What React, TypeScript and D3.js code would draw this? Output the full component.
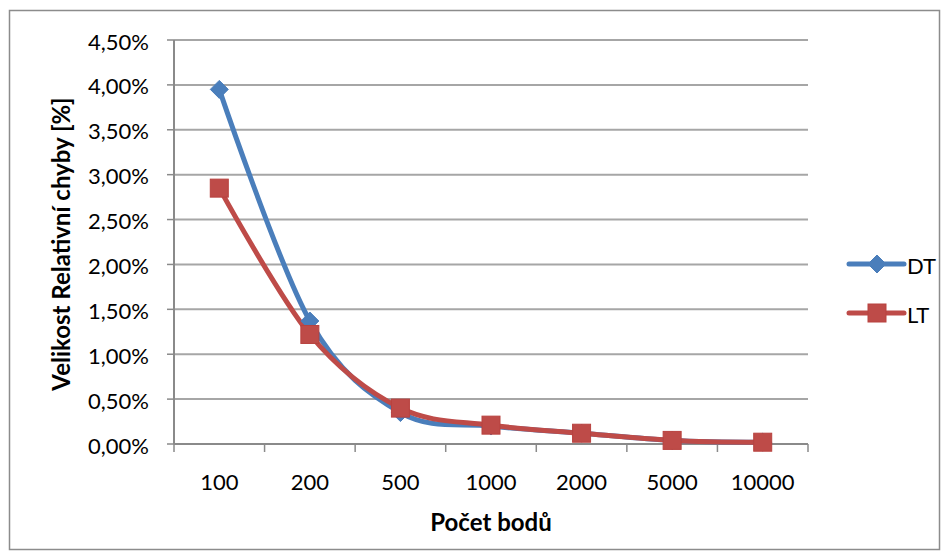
import React from "react";
import * as d3 from "d3";

const categories = ["100", "200", "500", "1000", "2000", "5000", "10000"];
const dtValues = [3.95, 1.37, 0.35, 0.2, 0.12, 0.04, 0.02];
const ltValues = [2.85, 1.22, 0.4, 0.21, 0.12, 0.04, 0.02];
const yTicks = [0, 0.5, 1, 1.5, 2, 2.5, 3, 3.5, 4, 4.5];
const seriesNames = ["DT", "LT"];
const seriesColors = ["#4A7EBB", "#BE4B48"];

const W = 949;
const H = 559;
const plot = { left: 174, right: 808, top: 40, bottom: 444 };
const FONT = "Lato, 'Open Sans', sans-serif";

export default function App() {
  const x = d3.scaleBand().domain(categories).range([plot.left, plot.right]);
  const y = d3.scaleLinear().domain([0, 4.5]).range([plot.bottom, plot.top]);
  const line = d3
    .line<number>()
    .x((_, i) => (x(categories[i]) as number) + x.bandwidth() / 2)
    .y((d) => y(d))
    .curve(d3.curveCardinal.tension(0));
  const fmt = (v: number) => v.toFixed(2).replace(".", ",") + "%";
  const series = [dtValues, ltValues];

  const marker = (si: number, cx: number, cy: number, key: string) =>
    si === 0 ? (
      <path
        key={key}
        d={`M${cx},${cy - 9}L${cx + 9},${cy}L${cx},${cy + 9}L${cx - 9},${cy}Z`}
        fill={seriesColors[0]}
        stroke={seriesColors[0]}
        strokeWidth={1}
      />
    ) : (
      <rect
        key={key}
        x={cx - 9}
        y={cy - 9}
        width={18}
        height={18}
        fill={seriesColors[1]}
        stroke="#B8423F"
        strokeWidth={1}
      />
    );

  return (
    <svg width={W} height={H} style={{ position: "absolute", left: 0, top: 0 }}>
      <rect x={0} y={0} width={W} height={H} fill="#fff" />
      <rect x={9.5} y={10.5} width={930} height={539} fill="#fff" stroke="#8c8c8c" strokeWidth={1.5} />
      {yTicks.map((t) => (
        <g key={t}>
          {t > 0 && (
            <line x1={plot.left} x2={plot.right} y1={y(t)} y2={y(t)} stroke="#a6a6a6" strokeWidth={2} />
          )}
          <line x1={plot.left - 7} x2={plot.left} y1={y(t)} y2={y(t)} stroke="#8a8a8a" strokeWidth={1.5} />
          <text
            x={plot.left - 25}
            y={y(t) + 1}
            textAnchor="end"
            dominantBaseline="central"
            fontFamily={FONT}
            fontSize={22}
            fill="#000"
          >
            {fmt(t)}
          </text>
        </g>
      ))}
      <line x1={plot.left} x2={plot.left} y1={plot.top} y2={plot.bottom} stroke="#8a8a8a" strokeWidth={2} />
      <line x1={plot.left} x2={plot.right} y1={plot.bottom} y2={plot.bottom} stroke="#8a8a8a" strokeWidth={2} />
      {categories.map((c) => (
        <g key={c}>
          <line
            x1={x(c) as number}
            x2={x(c) as number}
            y1={plot.bottom}
            y2={plot.bottom + 8}
            stroke="#8a8a8a"
            strokeWidth={1.5}
          />
          <text
            x={(x(c) as number) + x.bandwidth() / 2}
            y={plot.bottom + 37}
            textAnchor="middle"
            dominantBaseline="central"
            fontFamily={FONT}
            fontSize={22}
          >
            {c}
          </text>
        </g>
      ))}
      <line x1={plot.right} x2={plot.right} y1={plot.bottom} y2={plot.bottom + 8} stroke="#8a8a8a" strokeWidth={1.5} />
      {series.map((vals, si) => (
        <path key={"l" + si} d={line(vals) || ""} fill="none" stroke={seriesColors[si]} strokeWidth={5} strokeLinejoin="round" />
      ))}
      {series.map((vals, si) =>
        vals.map((v, i) =>
          marker(si, (x(categories[i]) as number) + x.bandwidth() / 2, y(v), `m${si}-${i}`)
        )
      )}
      <text
        transform={`translate(60,${(plot.top + plot.bottom) / 2 + 2}) rotate(-90)`}
        textAnchor="middle"
        dominantBaseline="central"
        fontFamily={FONT}
        fontWeight="bold"
        fontSize={24}
      >
        Velikost Relativní chyby [%]
      </text>
      <text
        x={(plot.left + plot.right) / 2}
        y={521}
        textAnchor="middle"
        dominantBaseline="central"
        fontFamily={FONT}
        fontWeight="bold"
        fontSize={24}
      >
        Počet bodů
      </text>
      {seriesNames.map((n, si) => {
        const ly = 264 + si * 49;
        return (
          <g key={n}>
            <line x1={849} x2={904} y1={ly} y2={ly} stroke={seriesColors[si]} strokeWidth={5} strokeLinecap="round" />
            {marker(si, 877, ly, "lg" + si)}
            <text x={907} y={ly + 1} dominantBaseline="central" fontFamily={FONT} fontSize={22}>
              {n}
            </text>
          </g>
        );
      })}
    </svg>
  );
}
